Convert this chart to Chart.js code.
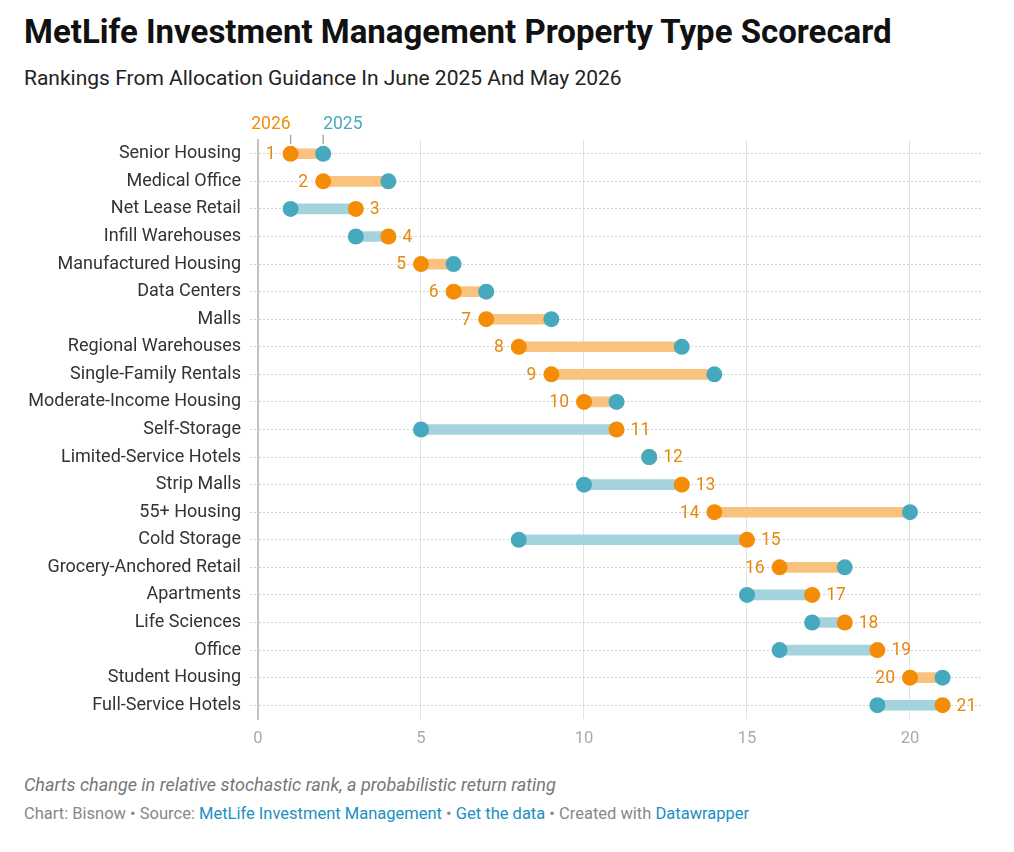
<!DOCTYPE html>
<html><head><meta charset="utf-8">
<script src="https://cdn.jsdelivr.net/npm/chart.js@4"></script>
<style>
body{margin:0;background:#fff;font-family:Roboto,sans-serif;width:1014px;height:852px;position:relative;overflow:hidden}
#title{position:absolute;left:24px;top:12px;font-size:33px;font-weight:700;color:#111;white-space:nowrap}
#sub{position:absolute;left:24px;top:66px;font-size:21px;color:#222;white-space:nowrap}
#note{position:absolute;left:24px;top:774px;font-size:18px;font-style:italic;color:#777;white-space:nowrap}
#src{position:absolute;left:24px;top:804px;font-size:16.5px;color:#888;white-space:nowrap}
#src a{color:#1d8fc2;text-decoration:none}
#wrap{position:absolute;left:0;top:110px;width:1014px;height:650px}
</style></head><body>
<div id="title">MetLife Investment Management Property Type Scorecard</div>
<div id="sub">Rankings From Allocation Guidance In June 2025 And May 2026</div>
<div id="wrap"><canvas id="c"></canvas></div>
<div id="note">Charts change in relative stochastic rank, a probabilistic return rating</div>
<div id="src">Chart: Bisnow • Source: <a>MetLife Investment Management</a> • <a>Get the data</a> • Created with <a>Datawrapper</a></div>
<script>
const categories = ["Senior Housing","Medical Office","Net Lease Retail","Infill Warehouses","Manufactured Housing","Data Centers","Malls","Regional Warehouses","Single-Family Rentals","Moderate-Income Housing","Self-Storage","Limited-Service Hotels","Strip Malls","55+ Housing","Cold Storage","Grocery-Anchored Retail","Apartments","Life Sciences","Office","Student Housing","Full-Service Hotels"];
const rank2026 = [1,2,3,4,5,6,7,8,9,10,11,12,13,14,15,16,17,18,19,20,21];
const rank2025 = [2,4,1,3,6,7,9,13,14,11,5,12,10,20,8,18,15,17,16,21,19];
const xTicks = [0,5,10,15,20];

const ORANGE='#f48c06', BLUE='#47a9bd', ORANGE_BAR='#f9c27f', BLUE_BAR='#a4d3dd', LABEL='#e5880f';

const labelPlugin = {
  id:'rankLabels',
  afterDatasetsDraw(chart){
    const ctx=chart.ctx, xs=chart.scales.x, ys=chart.scales.y;
    ctx.save();
    ctx.font='17.5px Roboto';
    ctx.fillStyle=LABEL;
    ctx.textBaseline='middle';
    rank2026.forEach((v,i)=>{
      const y=ys.getPixelForValue(i);
      const px=xs.getPixelForValue(v);
      if(v<rank2025[i]){ctx.textAlign='right';ctx.fillText(String(v),px-15,y+1);}
      else{ctx.textAlign='left';ctx.fillText(String(v),px+14,y+1);}
    });
    const y0=ys.getPixelForValue(0);
    const p26=xs.getPixelForValue(rank2026[0]), p25=xs.getPixelForValue(rank2025[0]);
    ctx.fillStyle=ORANGE; ctx.textAlign='right'; ctx.fillText('2026',p26,y0-29);
    ctx.fillStyle=BLUE; ctx.textAlign='left'; ctx.fillText('2025',p25,y0-29);
    ctx.strokeStyle='#aaa'; ctx.lineWidth=1.5;
    ctx.beginPath(); ctx.moveTo(p26,y0-19); ctx.lineTo(p26,y0-10); ctx.moveTo(p25,y0-19); ctx.lineTo(p25,y0-10); ctx.stroke();
    ctx.restore();
  }
};

new Chart(document.getElementById('c'),{
  type:'bar',
  data:{labels:categories,datasets:[
    {type:'bar',data:rank2026.map((v,i)=>[Math.min(v,rank2025[i]),Math.max(v,rank2025[i])]),
      backgroundColor:rank2026.map((v,i)=>v<rank2025[i]?ORANGE_BAR:BLUE_BAR),barThickness:10,borderSkipped:false,order:3},
    {type:'line',indexAxis:'y',data:rank2026,showLine:false,pointRadius:8,pointHoverRadius:8,pointBackgroundColor:ORANGE,pointBorderWidth:0,order:2},
    {type:'line',indexAxis:'y',data:rank2025,showLine:false,pointRadius:8,pointHoverRadius:8,pointBackgroundColor:BLUE,pointBorderWidth:0,order:1}
  ]},
  options:{
    indexAxis:'y',responsive:true,maintainAspectRatio:false,animation:false,
    layout:{padding:{left:0,right:31,top:30,bottom:0}},
    plugins:{legend:{display:false},tooltip:{enabled:false}},
    scales:{
      x:{type:'linear',min:0,max:22.24,position:'bottom',
        afterBuildTicks(s){s.ticks=xTicks.map(v=>({value:v}));},
        afterFit(s){s.height=41;},
        border:{display:false},
        grid:{drawTicks:false,color:c=>c.tick&&c.tick.value===0?'rgba(0,0,0,0)':'#e2e2e2',lineWidth:1},
        ticks:{padding:10,color:'#aaa',font:{family:'Roboto',size:16.5}}},
      y:{type:'category',offset:true,
        afterFit(s){s.width=258;},
        border:{display:true,color:'#c4c4c4',width:2,dash:[2,2]},
        grid:{offset:false,color:'#d2d2d2',tickBorderDash:[2,2],tickLength:8,lineWidth:1},
        ticks:{padding:9,color:'#333',font:{family:'Roboto',size:18}}}
    }
  },
  plugins:[labelPlugin]
});
</script>
</body></html>
